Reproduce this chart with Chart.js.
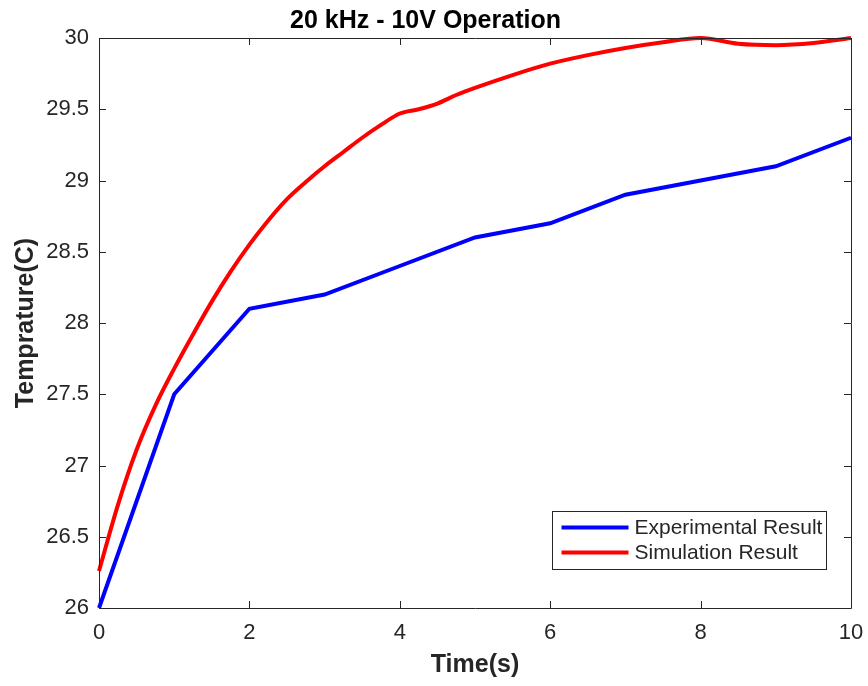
<!DOCTYPE html>
<html>
<head>
<meta charset="utf-8">
<script src="https://cdn.jsdelivr.net/npm/chart.js@4.4.1/dist/chart.umd.min.js"></script>
<style>
  html, body { margin: 0; padding: 0; background: #ffffff; }
  #wrap { width: 868px; height: 686px; }
</style>
</head>
<body>
<div id="wrap"><canvas id="c" width="868" height="686"></canvas></div>
<script>
// ---- data ----
const chartTitle = "20 kHz - 10V Operation";
const xTitle = "Time(s)";
const yTitle = "Temprature(C)";
const seriesNames = ["Experimental Result", "Simulation Result"];

const expTime = [0, 1, 2, 3, 4, 5, 6, 7, 8, 9, 10];
const expTemp = [26.0, 27.5, 28.1, 28.2, 28.4, 28.6, 28.7, 28.9, 29.0, 29.1, 29.3];

const simTime = [0, 0.25, 0.5, 0.75, 1, 1.25, 1.5, 1.75, 2, 2.25, 2.5, 2.75, 3, 3.25, 3.5, 3.75, 4, 4.25, 4.5, 4.75, 5, 5.5, 6, 6.5, 7, 7.5, 8, 8.5, 9, 9.5, 10];
const simTemp = [26.26, 26.72, 27.11, 27.42, 27.68, 27.92, 28.15, 28.36, 28.55, 28.72, 28.87, 28.99, 29.10, 29.20, 29.30, 29.39, 29.47, 29.50, 29.54, 29.60, 29.65, 29.74, 29.82, 29.88, 29.93, 29.97, 30.0, 29.96, 29.95, 29.965, 30.0];

const xTicks = [0, 2, 4, 6, 8, 10];
const yTicks = [26, 26.5, 27, 27.5, 28, 28.5, 29, 29.5, 30];

// ---- styles ----
const AX = '#262626';
const FONT = "'Liberation Sans', Arial, sans-serif";

function pts(xs, ys) { return xs.map((x, i) => ({ x: x, y: ys[i] })); }

const boxAndTicks = {
  id: 'boxAndTicks',
  afterDatasetsDraw(chart) {
    const { ctx, chartArea: a, scales } = chart;
    ctx.save();
    ctx.strokeStyle = AX;
    ctx.lineWidth = 1;
    ctx.beginPath();
    ctx.rect(Math.round(a.left) + 0.5, Math.round(a.top) + 0.5, Math.round(a.right - a.left), Math.round(a.bottom - a.top));
    ctx.stroke();
    const L = 7;
    ctx.beginPath();
    xTicks.forEach(v => {
      const px = Math.round(scales.x.getPixelForValue(v)) + 0.5;
      ctx.moveTo(px, a.bottom); ctx.lineTo(px, a.bottom - L);
      ctx.moveTo(px, a.top); ctx.lineTo(px, a.top + L);
    });
    yTicks.forEach(v => {
      const py = Math.round(scales.y.getPixelForValue(v)) + 0.5;
      ctx.moveTo(a.left, py); ctx.lineTo(a.left + L, py);
      ctx.moveTo(a.right, py); ctx.lineTo(a.right - L, py);
    });
    ctx.stroke();
    ctx.restore();
  }
};

const innerLegend = {
  id: 'innerLegend',
  afterDraw(chart) {
    const { ctx, chartArea: a } = chart;
    const ds = chart.data.datasets;
    ctx.save();
    ctx.font = "21px " + FONT;
    const tw = Math.max(...ds.map(d => ctx.measureText(d.label).width));
    const padL = 9, lineLen = 67, gap = 6, padR = 4, rowH = 25, padT = 16;
    const w = Math.round(padL + lineLen + gap + tw + padR);
    const h = padT + rowH * (ds.length - 1) + 17;
    const x0 = Math.round(a.right - 25 - w) + 0.5;
    const y0 = Math.round(a.bottom - 39 - h) + 0.5;
    ctx.fillStyle = '#ffffff';
    ctx.fillRect(x0, y0, w, h);
    ctx.strokeStyle = AX;
    ctx.lineWidth = 1;
    ctx.strokeRect(x0, y0, w, h);
    ds.forEach((d, i) => {
      const cy = y0 + padT + rowH * i;
      ctx.strokeStyle = d.borderColor;
      ctx.lineWidth = 4;
      ctx.beginPath();
      ctx.moveTo(x0 + padL, cy); ctx.lineTo(x0 + padL + lineLen, cy);
      ctx.stroke();
      ctx.fillStyle = AX;
      ctx.textBaseline = 'middle';
      ctx.textAlign = 'left';
      ctx.fillText(d.label, x0 + padL + lineLen + gap, cy + 1);
    });
    ctx.restore();
  }
};

new Chart(document.getElementById('c'), {
  type: 'line',
  data: {
    datasets: [
      {
        label: seriesNames[0],
        data: pts(expTime, expTemp),
        borderColor: '#0000ff',
        backgroundColor: '#0000ff',
        borderWidth: 4,
        pointRadius: 0,
        tension: 0
      },
      {
        label: seriesNames[1],
        data: pts(simTime, simTemp),
        borderColor: '#ff0000',
        backgroundColor: '#ff0000',
        borderWidth: 4,
        pointRadius: 0,
        cubicInterpolationMode: 'monotone'
      }
    ]
  },
  options: {
    responsive: false,
    animation: false,
    events: [],
    clip: false,
    layout: { padding: { left: 0, right: 17, top: 0, bottom: 0 } },
    plugins: {
      legend: { display: false },
      tooltip: { enabled: false },
      title: {
        display: true,
        text: chartTitle,
        color: '#000000',
        font: { family: FONT, size: 25, weight: 'bold', lineHeight: 1.2 },
        padding: { top: 6, bottom: 2 }
      }
    },
    scales: {
      x: {
        type: 'linear',
        min: 0, max: 10,
        grid: { display: false, drawTicks: false },
        border: { display: false },
        afterBuildTicks: s => { s.ticks = xTicks.map(v => ({ value: v })); },
        afterFit: s => { s.height = 78; s.paddingLeft = 0; s.paddingRight = 0; },
        ticks: {
          color: AX,
          padding: 12,
          maxRotation: 0,
          font: { family: FONT, size: 22 },
          callback: v => String(v)
        },
        title: {
          display: true,
          text: xTitle,
          color: AX,
          font: { family: FONT, size: 25, weight: 'bold', lineHeight: 1.2 },
          padding: { top: 0, bottom: 6 }
        }
      },
      y: {
        type: 'linear',
        min: 26, max: 30,
        grid: { display: false, drawTicks: false },
        border: { display: false },
        afterBuildTicks: s => { s.ticks = yTicks.map(v => ({ value: v })); },
        afterFit: s => { s.width = 99; },
        ticks: {
          color: AX,
          padding: 10,
          font: { family: FONT, size: 22 },
          callback: v => String(v)
        },
        title: {
          display: true,
          text: yTitle,
          color: AX,
          font: { family: FONT, size: 25, weight: 'bold', lineHeight: 1.2 },
          padding: { top: 11, bottom: 0 }
        }
      }
    }
  },
  plugins: [boxAndTicks, innerLegend]
});
</script>
</body>
</html>
